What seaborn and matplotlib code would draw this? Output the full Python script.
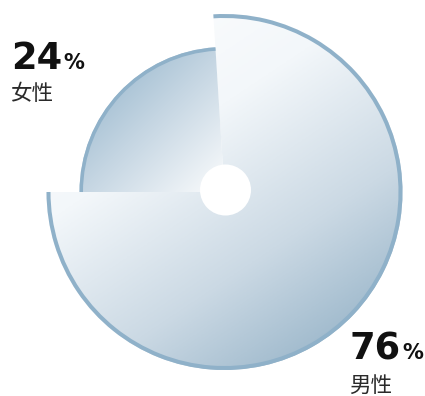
import numpy as np
import matplotlib
matplotlib.use("Agg")
import matplotlib.pyplot as plt
from matplotlib.patches import Wedge, Arc, Circle
from matplotlib.colors import LinearSegmentedColormap
import seaborn as sns

# Gender split (percent)
labels = ["男性", "女性"]
values = [76, 24]
radii = [178, 145]            # outer radius of each slice, in pixels

# gradient stops per slice, running from top-left to bottom-right
grad_stops = [
    [(0.0, "#ffffff"), (0.35, "#f3f7fa"), (0.65, "#cbd9e4"), (0.85, "#a4bdcf"), (1.0, "#86a8c1")],
    [(0.0, "#8aaec7"), (0.5, "#c4d5e2"), (1.0, "#fbfcfd")],
]
grad_dir = [(0.4, 0.6), (0.5, 0.5)]   # weight of horizontal / vertical position
edge_color = "#8fb1c9"

sns.set_theme(style="white")
plt.rcParams["font.family"] = ["DejaVu Sans", "Noto Sans CJK SC"]

W, H = 425, 396
fig = plt.figure(figsize=(W / 100, H / 100), dpi=100)
ax = fig.add_axes([0, 0, 1, 1])
ax.set_xlim(0, W)
ax.set_ylim(0, H)
ax.set_aspect("equal")
ax.axis("off")

cx, cy = 224.5, H - 192.0
boundary = 180.0  # the male slice ends at 9 o'clock

total = float(sum(values))
spans = [360.0 * v / total for v in values]
angles = [(boundary, boundary + spans[0]),          # 男性, clockwise from the top
          (boundary - spans[1], boundary)]          # 女性

for i in range(len(values)):
    r = radii[i]
    t1, t2 = angles[i]
    wedge = Wedge((cx, cy), r, t1, t2, facecolor="none", edgecolor="none")
    ax.add_patch(wedge)

    # diagonal gradient over the slice's bounding box
    pts = wedge.get_path().vertices
    x0, x1 = pts[:, 0].min(), pts[:, 0].max()
    y0, y1 = pts[:, 1].min(), pts[:, 1].max()
    n = 300
    gx, gy = np.meshgrid(np.linspace(0, 1, n), np.linspace(0, 1, n))
    wx, wy = grad_dir[i]
    t = wx * gx + wy * gy  # row 0 is top when origin='upper'
    cmap = LinearSegmentedColormap.from_list(f"g{i}", grad_stops[i])
    im = ax.imshow(t, cmap=cmap, vmin=0, vmax=1, extent=[x0, x1, y0, y1],
                   origin="upper", interpolation="bilinear", zorder=1 + i * 0.1)
    im.set_clip_path(wedge)

    lw_px = 4.0 if i == 0 else 3.5
    arc = Arc((cx, cy), 2 * (r - lw_px / 2), 2 * (r - lw_px / 2), theta1=t1, theta2=t2,
              color=edge_color, lw=lw_px * 0.72, zorder=2, capstyle="butt")
    ax.add_patch(arc)

# center hole
ax.add_patch(Circle((cx + 1, cy + 2), 25.5, facecolor="white", edgecolor="none", zorder=3))

cjk = ["Noto Sans CJK SC", "DejaVu Sans"]


def value_label(x, base_y, value, name, name_y):
    num = ax.text(x, H - base_y, f"{value}", fontsize=26.5, fontweight="bold",
                  color="#111111", ha="left", va="baseline", zorder=4)
    fig.canvas.draw()
    bb = num.get_window_extent()
    ax.text(bb.x1 + 1.5, H - base_y, "%", fontsize=15, fontweight="bold",
            color="#111111", ha="left", va="baseline", zorder=4)
    ax.text(x - 1, H - name_y, name, fontsize=15.5, family=cjk, fontweight="light",
            color="#2a2a2a", ha="left", va="baseline", zorder=4)


value_label(11, 69, values[1], labels[1], 100)
value_label(350, 359, values[0], labels[0], 391.5)

fig.savefig("out.png", dpi=100, facecolor="white")
